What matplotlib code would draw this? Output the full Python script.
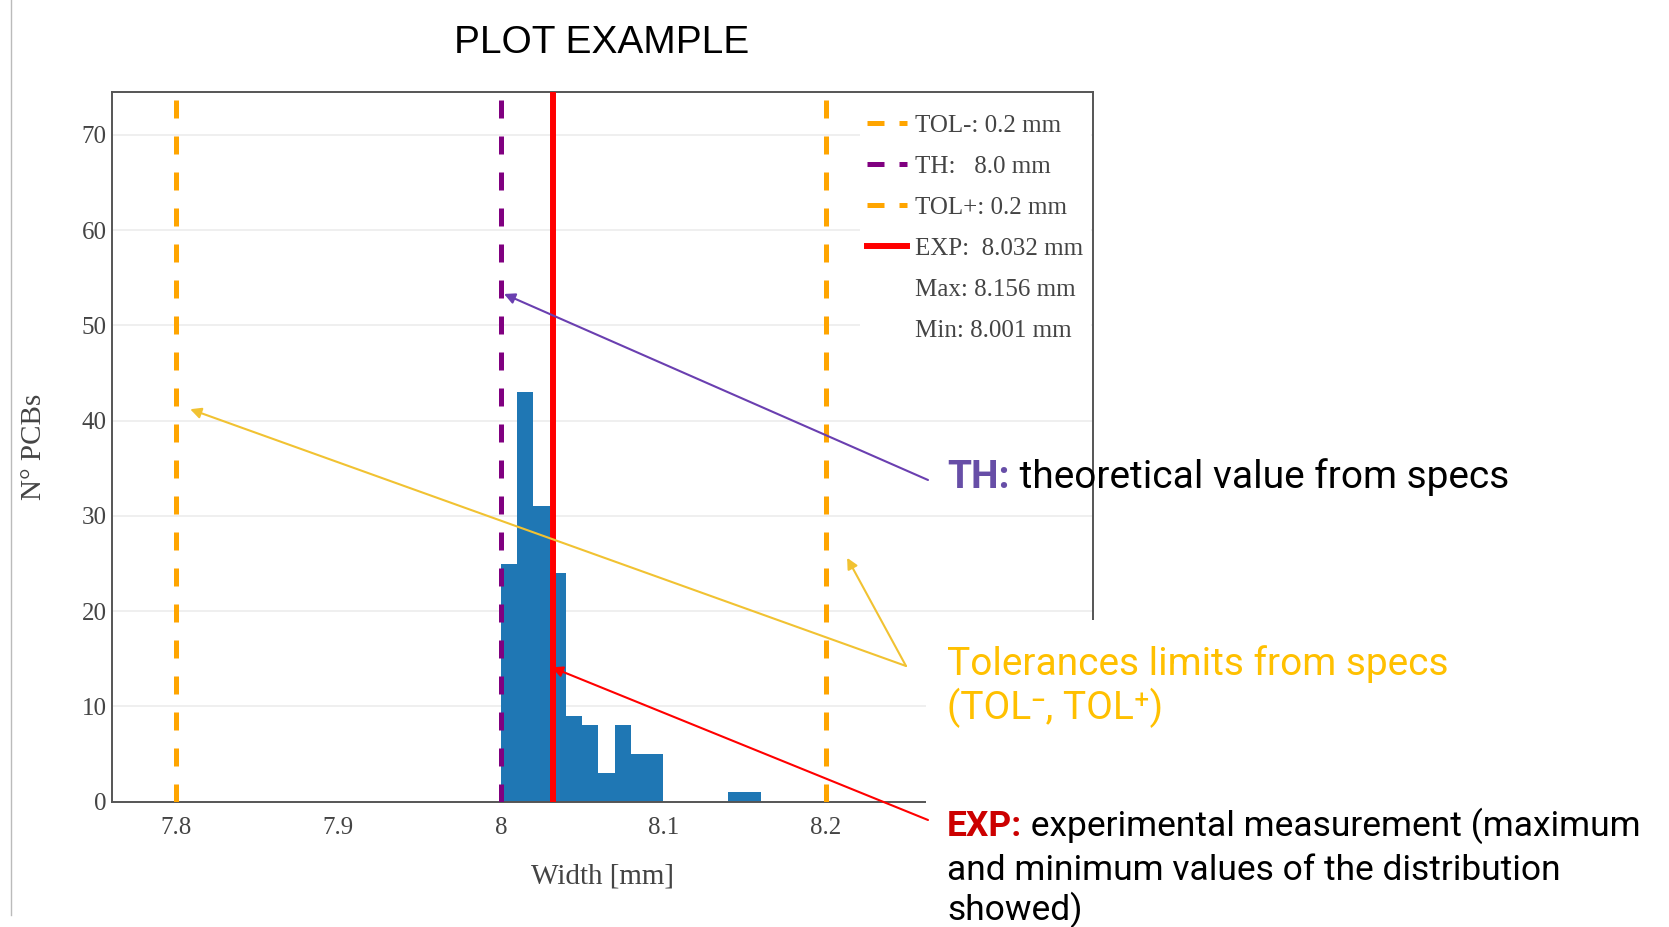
import matplotlib
matplotlib.use("Agg")
import matplotlib.pyplot as plt
from matplotlib.lines import Line2D
from matplotlib.patches import Rectangle

bin_edges = [8.00, 8.01, 8.02, 8.03, 8.04, 8.05, 8.06, 8.07, 8.08, 8.09,
             8.10, 8.11, 8.12, 8.13, 8.14, 8.15, 8.16]
counts = [25, 43, 31, 24, 9, 8, 3, 8, 5, 5, 0, 0, 0, 0, 1, 1]

tol_minus = 7.8
theoretical = 8.0
tol_plus = 8.2
exp_mean = 8.032
exp_max = 8.156
exp_min = 8.001
tolerance = 0.2

x_ticks = [7.8, 7.9, 8.0, 8.1, 8.2]
x_tick_labels = ["7.8", "7.9", "8", "8.1", "8.2"]
y_ticks = [0, 10, 20, 30, 40, 50, 60, 70]

# where the callout arrows point (data coords)
th_target = (8.002, 53.3)
tol_targets = [(7.809, 41.2), (8.213, 25.6)]
exp_target = (8.0314, 14.1)

W, H = 1669, 927
ORANGE = "#ffa500"
PURPLE = "#800080"
RED = "#ff0000"
GREY = "#444444"
SERIF = "Liberation Serif"
SANS = ["Roboto", "DejaVu Sans"]


def fig_xy(x, y):
    """pixel position (from top-left) -> figure fraction"""
    return x / W, 1 - y / H


fig = plt.figure(figsize=(W / 100, H / 100), dpi=100)
ax = fig.add_axes([112 / W, 1 - 801.7 / H, (1093 - 112) / W, (801.7 - 92) / H])

widths = [b - a for a, b in zip(bin_edges[:-1], bin_edges[1:])]
ax.bar(bin_edges[:-1], counts, width=widths, align="edge", color="#1f77b4",
       linewidth=0, zorder=2)

dash = (0, (3.6, 3.6))
ax.axvline(tol_minus, color=ORANGE, lw=3.6, ls=dash, zorder=3)
ax.axvline(theoretical, color=PURPLE, lw=3.6, ls=dash, zorder=3)
ax.axvline(tol_plus, color=ORANGE, lw=3.6, ls=dash, zorder=3)
ax.axvline(exp_mean, color=RED, lw=4.3, zorder=3)

ax.set_xlim(7.7609, 8.3642)
ax.set_ylim(0, 74.5)
ax.set_xticks(x_ticks, x_tick_labels)
ax.set_yticks(y_ticks)
ax.tick_params(axis="both", length=0, labelsize=18, labelcolor=GREY)
ax.tick_params(axis="x", pad=11)
ax.tick_params(axis="y", pad=4)
for lab in ax.get_xticklabels() + ax.get_yticklabels():
    lab.set_family(SERIF)
ax.grid(axis="y", color="#ececec", lw=1.2, zorder=0)
ax.set_axisbelow(True)
for sp in ax.spines.values():
    sp.set_color("#555555")
    sp.set_linewidth(1.4)

ax.set_xlabel("Width [mm]", fontsize=21, family=SERIF, color=GREY)
ax.xaxis.set_label_coords(0.5, -0.106)
ax.xaxis.label.set_va("center")
ax.set_ylabel("N° PCBs", fontsize=21, family=SERIF, color=GREY)
ax.yaxis.set_label_coords(-0.0795, 0.5)
ax.yaxis.label.set_va("center")

leg_dash = (0, (3.4, 3.0))
handles = [
    Line2D([], [], color=ORANGE, lw=3.6, ls=leg_dash),
    Line2D([], [], color=PURPLE, lw=3.6, ls=leg_dash),
    Line2D([], [], color=ORANGE, lw=3.6, ls=leg_dash),
    Line2D([], [], color=RED, lw=4.3),
    Line2D([], [], color="none"),
    Line2D([], [], color="none"),
]
labels = [
    f"TOL-: {tolerance} mm",
    f"TH:   {theoretical:.1f} mm",
    f"TOL+: {tolerance} mm",
    f"EXP:  {exp_mean:.3f} mm",
    f"Max: {exp_max:.3f} mm",
    f"Min: {exp_min:.3f} mm",
]
leg = ax.legend(handles, labels, loc="upper left", bbox_to_anchor=(0.762, 0.979),
                prop={"family": SERIF, "size": 18}, labelcolor=GREY, frameon=True,
                facecolor="white", edgecolor="none", framealpha=1, fancybox=False,
                borderaxespad=0, borderpad=0.3, handlelength=1.6, handletextpad=0.32,
                labelspacing=0.74)
leg.set_zorder(2.4)  # keep the right spine visible over the legend box

# white slide box hiding the lower right part of the plot
ax.add_patch(Rectangle(fig_xy(926, 927), (W - 926) / W, (927 - 620) / H,
                       transform=fig.transFigure, facecolor="white",
                       edgecolor="none", clip_on=False, zorder=10))

# callout arrows
arrow_kw = dict(xycoords="data", textcoords="figure fraction", annotation_clip=False)
ax.annotate("", xy=th_target, xytext=fig_xy(928, 480),
            arrowprops=dict(arrowstyle="-|>", color="#6a3fb0", lw=1.5, mutation_scale=16,
                            shrinkA=0, shrinkB=0), zorder=11, **arrow_kw)
for tgt in tol_targets:
    ax.annotate("", xy=tgt, xytext=fig_xy(906, 666),
                arrowprops=dict(arrowstyle="-|>", color="#f1c232", lw=1.5, mutation_scale=16,
                                shrinkA=0, shrinkB=0), zorder=11, **arrow_kw)
ax.annotate("", xy=exp_target, xytext=fig_xy(928, 820),
            arrowprops=dict(arrowstyle="-|>", color=RED, lw=1.5, mutation_scale=16,
                            shrinkA=0, shrinkB=0), zorder=11, **arrow_kw)


def two_tone(x, y, head, head_color, rest, size):
    t = fig.text(*fig_xy(x, y), head, color=head_color, fontweight="bold",
                 fontsize=size, family=SANS, va="center", ha="left", zorder=12)
    ax.annotate(rest, xy=(1, 0), xycoords=t, va="bottom", ha="left",
                fontsize=size, family=SANS, color="black", zorder=12,
                annotation_clip=False)


two_tone(947, 478, "TH:", "#674ea7", " theoretical value from specs", 28)
fig.text(*fig_xy(947, 664), "Tolerances limits from specs", color="#ffc000",
         fontsize=28, family=SANS, va="center", zorder=12)
fig.text(*fig_xy(947, 708), "(TOL\u207b, TOL\u207a)", color="#ffc000",
         fontsize=28, family=SANS, va="center", zorder=12)
exp_size = 25.5
two_tone(947, 827, "EXP:", "#cc0000", " experimental measurement (maximum", exp_size)
fig.text(*fig_xy(947, 870), "and minimum values of the distribution",
         fontsize=exp_size, family=SANS, va="center", zorder=12)
fig.text(*fig_xy(947, 910), "showed)", fontsize=exp_size, family=SANS,
         va="center", zorder=12)

fig.text(*fig_xy(601.5, 43), "PLOT EXAMPLE", fontsize=28, family="Liberation Sans",
         ha="center", va="center", color="black")

# slide border on the far left
fig.add_artist(Line2D([11 / W, 11 / W], [1 - 915 / H, 1], transform=fig.transFigure,
                      color="#bbbbbb", lw=1))

fig.savefig("out.png", dpi=100, facecolor="white")
